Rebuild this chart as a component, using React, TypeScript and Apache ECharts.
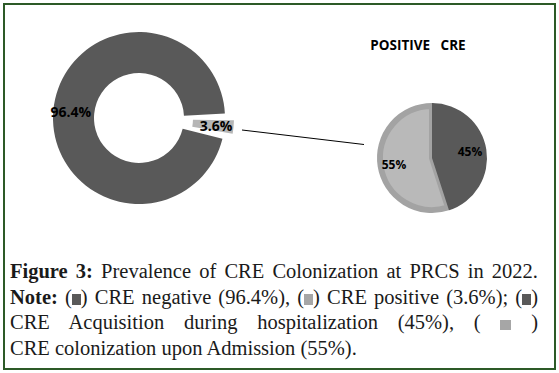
import React, { useEffect, useRef } from "react";
import * as echarts from "echarts";

const mainCategories = ["CRE positive", "CRE negative"];
const mainValues = [3.6, 96.4];
const positiveCategories = ["CRE Acquisition during hospitalization", "CRE colonization upon Admission"];
const positiveValues = [45, 55];
const pieTitle = "POSITIVE   CRE";

const DARK = "#595959";
const LIGHT = "#b6b6b6";
const BAND = "#a3a3a3";
const LABEL_FONT = "'Open Sans', Lato, sans-serif";

export default function App() {
  const ref = useRef<HTMLDivElement>(null);

  useEffect(() => {
    if (!ref.current) return;
    const chart = echarts.init(ref.current, null, { renderer: "svg" });
    const T = "rgba(0,0,0,0)";
    const option = {
      animation: false,
      backgroundColor: "#ffffff",
      graphic: [
        {
          type: "rect",
          shape: { x: 4, y: 4, width: 551, height: 365 },
          style: { fill: "none", stroke: "#2d5a27", lineWidth: 2 },
          silent: true,
        },
        {
          type: "line",
          shape: { x1: 242, y1: 130, x2: 364, y2: 144.5 },
          style: { stroke: "#000000", lineWidth: 1 },
          silent: true,
        },
        {
          type: "text",
          x: 418,
          y: 44.5,
          style: {
            text: pieTitle,
            fill: "#000000",
            font: `bold 13.5px ${LABEL_FONT}`,
            textAlign: "center",
            textVerticalAlign: "middle",
          },
          silent: true,
        },
      ],
      series: [
        {
          type: "pie",
          center: [139, 118],
          radius: [45, 86],
          startAngle: 1,
          clockwise: true,
          padAngle: 4,
          selectedMode: "single",
          selectedOffset: 9,
          emphasis: { disabled: true },
          labelLine: { show: false },
          label: {
            show: true,
            position: "inside",
            formatter: (p: any) => `${p.value}%`,
            color: "#000000",
            fontFamily: LABEL_FONT,
            fontWeight: "bold",
            fontSize: 14,
          },
          data: mainCategories.map((name, i) => ({
            name,
            value: mainValues[i],
            selected: i === 0,
            itemStyle: { color: i === 0 ? LIGHT : DARK },
          })),
        },
        {
          type: "pie",
          center: [432, 158],
          radius: [0, 52],
          startAngle: 90,
          clockwise: true,
          silent: true,
          emphasis: { disabled: true },
          label: { show: false },
          labelLine: { show: false },
          data: positiveCategories.map((name, i) => ({
            name,
            value: positiveValues[i],
            itemStyle:
              i === 1
                ? { color: "#b9b9b9", borderColor: BAND, borderWidth: 6 }
                : { color: T },
          })),
        },
        {
          type: "pie",
          center: [432, 158],
          radius: [0, 55],
          startAngle: 90,
          clockwise: true,
          silent: true,
          emphasis: { disabled: true },
          label: { show: false },
          labelLine: { show: false },
          data: positiveCategories.map((name, i) => ({
            name,
            value: positiveValues[i],
            itemStyle: { color: i === 0 ? DARK : T },
          })),
        },
        {
          type: "pie",
          center: [432, 158],
          radius: [16, 55],
          startAngle: 90,
          clockwise: true,
          silent: true,
          emphasis: { disabled: true },
          labelLine: { show: false },
          label: {
            show: true,
            position: "inside",
            formatter: (p: any) => `${p.value}%`,
            color: "#000000",
            fontFamily: LABEL_FONT,
            fontWeight: "bold",
            fontSize: 12,
          },
          data: positiveCategories.map((name, i) => ({
            name,
            value: positiveValues[i],
            itemStyle: { color: T },
          })),
        },
      ],
    };
    chart.setOption(option as any);
    return () => chart.dispose();
  }, []);

  const sq = (color: string, w: number, h: number) => (
    <span
      style={{
        display: "inline-block",
        width: w,
        height: h,
        background: color,
        verticalAlign: "-1px",
      }}
    />
  );

  const lineStyle: React.CSSProperties = {
    textAlign: "justify",
    textAlignLast: "justify" as any,
    height: 25.5,
  };

  return (
    <div style={{ position: "fixed", left: 0, top: 0, width: 559, height: 373, background: "#fff" }}>
      <div ref={ref} style={{ position: "absolute", left: 0, top: 0, width: 559, height: 373 }} />
      <div
        style={{
          position: "absolute",
          left: 10,
          top: 259,
          width: 528,
          fontFamily: "'Liberation Serif', 'DejaVu Serif', serif",
          fontSize: 20.5,
          lineHeight: "25.5px",
          color: "#1a1a1a",
        }}
      >
        <div style={lineStyle}>
          <b>Figure 3:</b> Prevalence of CRE Colonization at PRCS in 2022.
        </div>
        <div style={lineStyle}>
          <b>Note:</b> ({sq("#595959", 9, 11)}) CRE negative (96.4%), ({sq("#a6a6a6", 9, 11)}) CRE positive (3.6%); ({sq("#595959", 9, 11)})
        </div>
        <div style={lineStyle}>
          CRE Acquisition during hospitalization (45%), ( {sq("#a6a6a6", 11, 10)} )
        </div>
        <div style={{ height: 25.5 }}>CRE colonization upon Admission (55%).</div>
      </div>
    </div>
  );
}
